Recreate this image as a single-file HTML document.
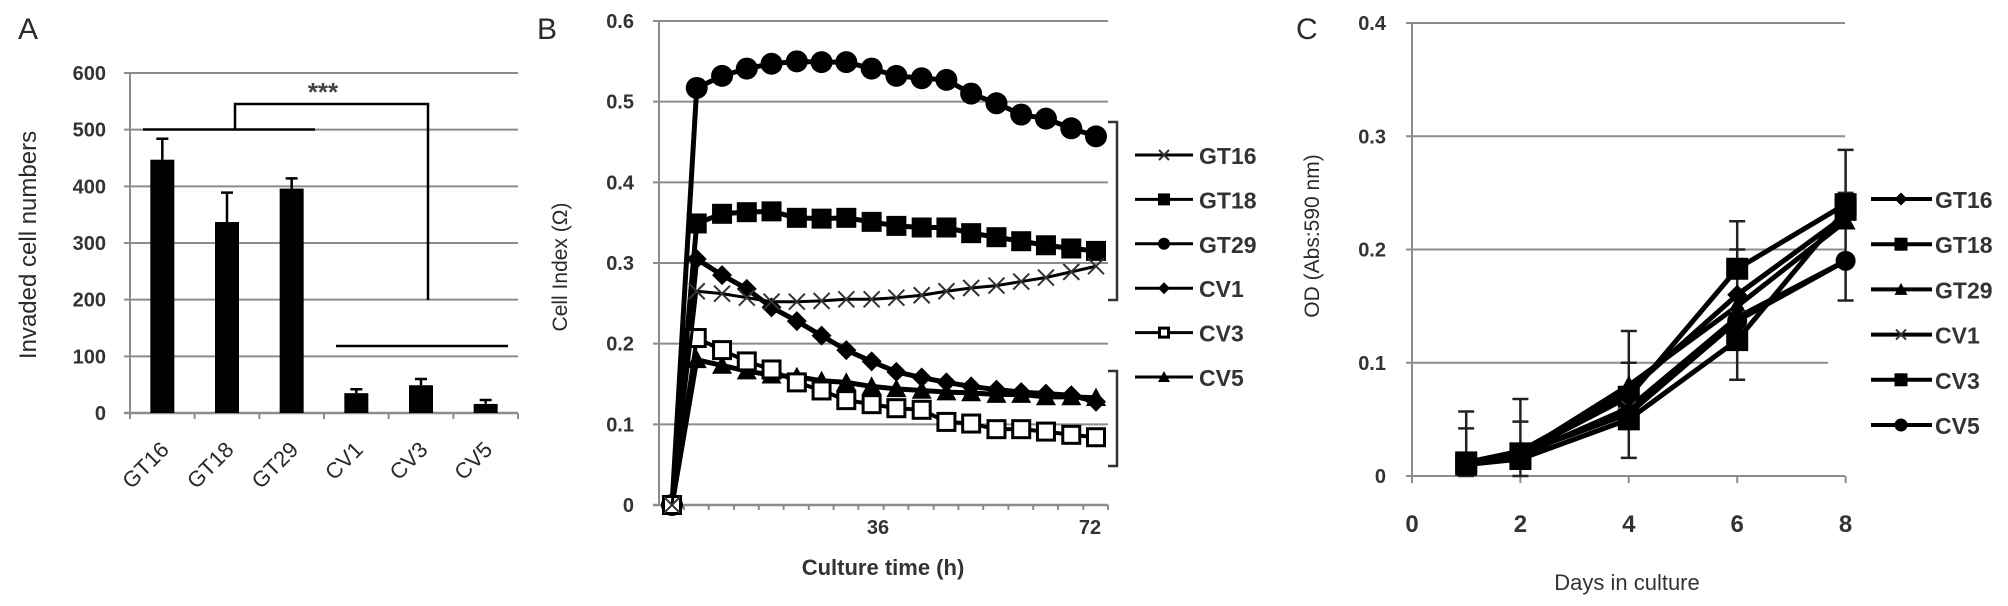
<!DOCTYPE html>
<html><head><meta charset="utf-8"><style>
html,body{margin:0;padding:0;background:#fff;}
svg{display:block;font-family:"Liberation Sans",Arial,sans-serif;}
</style></head>
<body>
<svg id="fig" width="2008" height="606" viewBox="0 0 2008 606" xmlns="http://www.w3.org/2000/svg">
<g id="pa"></g>
<g id="pb"></g>
<g id="pc"></g>
</svg>
<script>
// ---------- Panel A data ----------
const aCategories = ["GT16","GT18","GT29","CV1","CV3","CV5"];
const aValues = [447, 337, 396, 35, 49, 16];
const aErrors = [37, 52, 18, 7, 11, 7];
const aTicks = [0,100,200,300,400,500,600];

// ---------- Panel B data ----------
const bHours = [0,4.2,8.5,12.7,16.9,21.2,25.4,29.6,33.9,38.1,42.4,46.6,50.8,55.1,59.3,63.5,67.8,72];
const bGT16 = [0,0.265,0.262,0.257,0.252,0.252,0.253,0.255,0.255,0.257,0.260,0.265,0.269,0.272,0.277,0.282,0.289,0.296];
const bGT18 = [0,0.349,0.361,0.363,0.364,0.356,0.355,0.356,0.351,0.346,0.344,0.344,0.337,0.332,0.327,0.322,0.318,0.315];
const bGT29 = [0,0.517,0.532,0.541,0.547,0.550,0.549,0.549,0.541,0.532,0.529,0.527,0.510,0.498,0.484,0.479,0.467,0.457];
const bCV1 = [0,0.305,0.285,0.268,0.245,0.228,0.210,0.192,0.178,0.165,0.158,0.152,0.147,0.143,0.140,0.138,0.136,0.128];
const bCV3 = [0,0.207,0.192,0.178,0.168,0.152,0.142,0.130,0.125,0.120,0.118,0.103,0.101,0.094,0.094,0.091,0.087,0.084];
const bCV5 = [0,0.180,0.173,0.166,0.161,0.159,0.154,0.152,0.147,0.144,0.142,0.140,0.139,0.137,0.137,0.134,0.134,0.133];
const bYTicks = [0,0.1,0.2,0.3,0.4,0.5,0.6];
const bXTickLabels = ["36","72"];
const bXTickValues = [36,72];

// ---------- Panel C data ----------
const cDays = [1,2,4,6,8];
const cGT16 = [0.012,0.022,0.075,0.160,0.230];
const cGT18 = [0.012,0.020,0.070,0.183,0.240];
const cGT29 = [0.010,0.020,0.080,0.150,0.225];
const cCV1 = [0.010,0.018,0.060,0.140,0.190];
const cCV3 = [0.010,0.015,0.050,0.120,0.235];
const cCV5 = [0.012,0.020,0.055,0.137,0.190];
const cErrHigh = [0.057,0.068,0.128,0.225,0.288];
const cErrMid = [0.042,0.048,0.100,0.200,0.250];
const cErrLow = [0.000,0.000,0.016,0.085,0.155];
const cYTicks = [0,0.1,0.2,0.3,0.4];
const cXTicks = [0,2,4,6,8];

const NS = "http://www.w3.org/2000/svg";
function mk(parent, tag, attrs, text){
  const e = document.createElementNS(NS, tag);
  for (const k in attrs) e.setAttribute(k, attrs[k]);
  if (text !== undefined) e.textContent = text;
  parent.appendChild(e);
  return e;
}
const GRID = "#8c8c8c", TXT = "#2a2a2a";

function marker(g, type, x, y, s){
  let e;
  if (type === "circle") e = mk(g,"circle",{cx:x,cy:y,r:s/2,fill:"#000"});
  else if (type === "square") e = mk(g,"rect",{x:x-s/2,y:y-s/2,width:s,height:s,fill:"#000"});
  else if (type === "osquare") e = mk(g,"rect",{x:x-s/2+1.5,y:y-s/2+1.5,width:s-3,height:s-3,fill:"#fff",stroke:"#000","stroke-width":3});
  else if (type === "diamond") e = mk(g,"polygon",{points:`${x},${y-s/2} ${x+s/2},${y} ${x},${y+s/2} ${x-s/2},${y}`,fill:"#000"});
  else if (type === "triangle") e = mk(g,"polygon",{points:`${x},${y-s/2} ${x+s/2},${y+s/2.4} ${x-s/2},${y+s/2.4}`,fill:"#000"});
  else if (type === "x") { e = mk(g,"path",{d:`M${x-s/2},${y-s/2}L${x+s/2},${y+s/2}M${x-s/2},${y+s/2}L${x+s/2},${y-s/2}`,stroke:"#333","stroke-width":2,fill:"none"}); }
  return e;
}

// ================= PANEL A =================
(function(){
  const g = document.getElementById("pa");
  const x0 = 130, x1 = 518, yZero = 413, yTop = 73, vmax = 600;
  const ys = v => yZero - (v/vmax)*(yZero-yTop);
  const bw = (x1-x0)/aCategories.length;
  const xc = i => x0 + bw*(i+0.5);
  let t = mk(g,"text",{x:18,y:39,"font-size":30,fill:TXT},"A");
  
  
  aTicks.forEach(v=>{
    if (v>0){ const l = mk(g,"line",{x1:x0-6,x2:x1,y1:ys(v),y2:ys(v),stroke:GRID,"stroke-width":2});
      
       }
    const tl = mk(g,"text",{x:106,y:ys(v)+7,"text-anchor":"end","font-size":20,"font-weight":"bold",fill:"#333"},String(v));
    
    
  });
  mk(g,"line",{x1:x0,x2:x0,y1:yTop,y2:yZero,stroke:GRID,"stroke-width":2});
  mk(g,"line",{x1:x0-6,x2:x1,y1:yZero,y2:yZero,stroke:GRID,"stroke-width":2.5});
  for (let i=0;i<=aCategories.length;i++) mk(g,"line",{x1:x0+bw*i,x2:x0+bw*i,y1:yZero,y2:yZero+6,stroke:GRID,"stroke-width":2});
  const yt = mk(g,"text",{x:0,y:0,"font-size":24,fill:TXT,"text-anchor":"middle",transform:"translate(36,245) rotate(-90)"},"Invaded cell numbers");
  
  
  aCategories.forEach((c,i)=>{
    const cx = xc(i), w = 24;
    const b = mk(g,"rect",{x:cx-w/2,y:ys(aValues[i]),width:w,height:yZero-ys(aValues[i]),fill:"#000"});
    
    
    const et = ys(aValues[i]+aErrors[i]);
    const eb = mk(g,"path",{d:`M${cx},${ys(aValues[i])}V${et}M${cx-6},${et}H${cx+6}`,stroke:"#000","stroke-width":2.5,fill:"none"});
    
    
    const lb = mk(g,"text",{x:0,y:0,"font-size":22,fill:TXT,"text-anchor":"end",transform:`translate(${cx+8},${yZero+38}) rotate(-45)`},c);
    
    
  });
  const sig = mk(g,"path",{d:"M143,129.5H315M235,129.5V104H428V300M336,346H508",stroke:"#000","stroke-width":2.5,fill:"none"});
  
  
  const st = mk(g,"text",{x:323,y:101,"font-size":26,"font-weight":"bold",fill:"#444","text-anchor":"middle"},"***");
  
  
})();

// ================= PANEL B =================
(function(){
  const g = document.getElementById("pb");
  const ax = 659, xr = 1108, yZero = 505, yTop = 21, vmax = 0.6;
  const ys = v => yZero - (v/vmax)*(yZero-yTop);
  const xs = h => 672 + (h/72)*(1096-672);
  let t = mk(g,"text",{x:537,y:39,"font-size":30,fill:TXT},"B");
  
  
  bYTicks.forEach(v=>{
    if (v>0){ const l = mk(g,"line",{x1:ax-6,x2:xr,y1:ys(v),y2:ys(v),stroke:GRID,"stroke-width":2});
      
       }
    const tl = mk(g,"text",{x:634,y:ys(v)+7,"text-anchor":"end","font-size":20,"font-weight":"bold",fill:"#333"},String(v));
    
    
  });
  mk(g,"line",{x1:ax,x2:ax,y1:yTop,y2:yZero,stroke:GRID,"stroke-width":2});
  mk(g,"line",{x1:ax-6,x2:xr,y1:yZero,y2:yZero,stroke:GRID,"stroke-width":2.5});
  bHours.forEach(h=>mk(g,"line",{x1:xs(h)+12,x2:xs(h)+12,y1:yZero,y2:yZero+5,stroke:GRID,"stroke-width":2}));
  bXTickLabels.forEach((s,i)=>{
    const tl = mk(g,"text",{x:xs(bXTickValues[i])-6,y:534,"text-anchor":"middle","font-size":20,"font-weight":"bold",fill:"#333"},s);
    
    
  });
  const xt = mk(g,"text",{x:883,y:575,"text-anchor":"middle","font-size":22,"font-weight":"bold",fill:"#333"},"Culture time (h)");
  
  
  const yt = mk(g,"text",{x:0,y:0,"font-size":21,fill:TXT,"text-anchor":"middle",transform:"translate(567,267) rotate(-90)"},"Cell Index (Ω)");
  
  
  const series = [
    {n:"GT29",d:bGT29,m:"circle",s:22,w:5},
    {n:"GT18",d:bGT18,m:"square",s:20,w:5},
    {n:"CV1",d:bCV1,m:"diamond",s:20,w:5},
    {n:"CV5",d:bCV5,m:"triangle",s:20,w:5},
    {n:"CV3",d:bCV3,m:"osquare",s:20,w:4},
    {n:"GT16",d:bGT16,m:"x",s:16,w:3},
  ];
  series.forEach(sr=>{
    const sg = mk(g,"g",{});
    
    
    const pts = sr.d.map((v,i)=>`${xs(bHours[i])},${ys(v)}`).join(" ");
    mk(sg,"polyline",{points:pts,fill:"none",stroke:"#000","stroke-width":sr.w,"stroke-linejoin":"round"});
    sr.d.forEach((v,i)=>{
      const m = marker(sg, sr.m, xs(bHours[i]), ys(v), sr.s);
      
      
    });
  });
  const br = mk(g,"path",{d:"M1108,122H1117V300H1108M1108,371H1117V466H1108",fill:"none",stroke:"#333","stroke-width":2.5});
  
  
  const leg = [["GT16","x"],["GT18","square"],["GT29","circle"],["CV1","diamond"],["CV3","osquare"],["CV5","triangle"]];
  leg.forEach((L,i)=>{
    const y = 155 + i*44.4;
    const lg = mk(g,"g",{});
    
    
    mk(lg,"line",{x1:1135,x2:1193,y1:y,y2:y,stroke:"#000","stroke-width":3});
    marker(lg, L[1], 1164, y, L[1]==="x"?10:12);
    mk(lg,"text",{x:1199,y:y+9,"font-size":23,"font-weight":"bold",fill:"#333"},L[0]);
  });
})();

// ================= PANEL C =================
(function(){
  const g = document.getElementById("pc");
  const ax = 1412, xr = 1845, yZero = 476, yTop = 23, vmax = 0.4;
  const ys = v => yZero - (v/vmax)*(yZero-yTop);
  const xs = d => ax + d*54.2;
  let t = mk(g,"text",{x:1296,y:39,"font-size":30,fill:TXT},"C");
  
  
  cYTicks.forEach(v=>{
    const l = mk(g,"line",{x1:ax-6,x2:(v===0.1?1828:xr),y1:ys(v),y2:ys(v),stroke:GRID,"stroke-width":2});
    
    
    const tl = mk(g,"text",{x:1386,y:ys(v)+7,"text-anchor":"end","font-size":20,"font-weight":"bold",fill:"#333"},String(v));
    
    
  });
  mk(g,"line",{x1:ax,x2:ax,y1:yTop,y2:yZero+6,stroke:GRID,"stroke-width":2});
  cXTicks.forEach(d=>{
    mk(g,"line",{x1:xs(d),x2:xs(d),y1:yZero,y2:yZero+7,stroke:GRID,"stroke-width":2});
    const tl = mk(g,"text",{x:xs(d),y:532,"text-anchor":"middle","font-size":24,"font-weight":"bold",fill:"#333"},String(d));
    
    
  });
  const xt = mk(g,"text",{x:1627,y:590,"text-anchor":"middle","font-size":22,fill:"#333"},"Days in culture");
  
  
  const yt = mk(g,"text",{x:0,y:0,"font-size":21,fill:TXT,"text-anchor":"middle",transform:"translate(1319,236) rotate(-90)"},"OD (Abs:590 nm)");
  
  
  const eg = mk(g,"g",{});
  
  
  cDays.forEach((d,i)=>{
    const x = xs(d);
    mk(eg,"path",{d:`M${x},${ys(cErrHigh[i])}V${ys(cErrLow[i])}M${x-8},${ys(cErrHigh[i])}H${x+8}M${x-8},${ys(cErrMid[i])}H${x+8}M${x-8},${ys(cErrLow[i])}H${x+8}`,stroke:"#222","stroke-width":2.5,fill:"none"});
  });
  const series = [
    {n:"GT16",d:cGT16,m:"diamond",s:20},
    {n:"GT18",d:cGT18,m:"square",s:22},
    {n:"GT29",d:cGT29,m:"triangle",s:20},
    {n:"CV1",d:cCV1,m:"x",s:14},
    {n:"CV3",d:cCV3,m:"square",s:22},
    {n:"CV5",d:cCV5,m:"circle",s:20},
  ];
  series.forEach(sr=>{
    const sg = mk(g,"g",{});
    
    
    const pts = sr.d.map((v,i)=>`${xs(cDays[i])},${ys(v)}`).join(" ");
    mk(sg,"polyline",{points:pts,fill:"none",stroke:"#000","stroke-width":5,"stroke-linejoin":"round"});
    sr.d.forEach((v,i)=>{
      const m = marker(sg, sr.m, xs(cDays[i]), ys(v), sr.s);
      
      
    });
  });
  const leg = [["GT16","diamond"],["GT18","square"],["GT29","triangle"],["CV1","x"],["CV3","square"],["CV5","circle"]];
  leg.forEach((L,i)=>{
    const y = 199 + i*45.2;
    const lg = mk(g,"g",{});
    
    
    mk(lg,"line",{x1:1871,x2:1932,y1:y,y2:y,stroke:"#000","stroke-width":4});
    marker(lg, L[1], 1901, y, L[1]==="x"?10:13);
    mk(lg,"text",{x:1935,y:y+9,"font-size":23,"font-weight":"bold",fill:"#333"},L[0]);
  });
})();
</script>
</body></html>
